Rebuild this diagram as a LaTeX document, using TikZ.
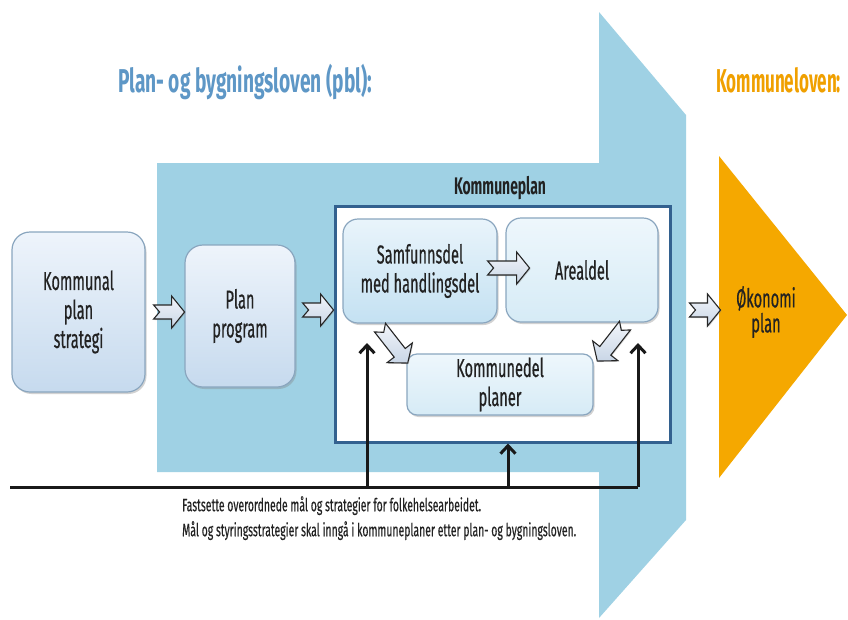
\documentclass[tikz,border=0pt]{standalone}
\usepackage{fontspec}
\setmainfont{Fira Sans}[FakeStretch=0.58]
\newfontfamily\boxfont{Fira Sans}[FakeStretch=0.56, FakeBold=0.5]
\newfontfamily\notefont{Fira Sans}[FakeStretch=0.58, FakeBold=0.3]
\usetikzlibrary{calc,arrows.meta,shadows}

\definecolor{pblblue}{HTML}{9FD1E4}
\definecolor{orangeA}{HTML}{F5A800}
\definecolor{titleblue}{HTML}{5E97C6}
\definecolor{titleorange}{HTML}{F0A000}
\definecolor{frameblue}{HTML}{33618F}
\definecolor{boxline}{HTML}{8AA6BF}
\definecolor{boxtop}{HTML}{EEF4FB}
\definecolor{boxbot}{HTML}{C6DAEE}
\definecolor{iboxtop}{HTML}{E9F4FB}
\definecolor{iboxbot}{HTML}{C4E1F2}
\definecolor{jboxtop}{HTML}{EEF7FC}
\definecolor{jboxbot}{HTML}{D6EBF6}
\definecolor{txt}{HTML}{222222}
\definecolor{arrfillA}{HTML}{F2F5FA}
\definecolor{arrfillB}{HTML}{C9D6E6}

\tikzset{
  box/.style={draw=boxline, line width=1.2pt, rounded corners=18pt,
    top color=boxtop, bottom color=boxbot, align=center, text=txt,
    font=\boxfont\fontsize{26}{29}\selectfont, inner sep=0pt,
    drop shadow={shadow xshift=1.5pt, shadow yshift=-2pt, opacity=0.35}},
  ibox/.style={box, rounded corners=15pt, top color=iboxtop, bottom color=iboxbot},
  jbox/.style={box, rounded corners=15pt, top color=jboxtop, bottom color=jboxbot},
  barrow/.style={draw=black!85, line width=1.1pt, line join=miter,
    top color=arrfillA, bottom color=arrfillB,
    drop shadow={shadow xshift=1pt, shadow yshift=-1pt, opacity=0.3}},
  pics/barr/.style={code={
    \path[barrow] (0,-7) -- ({#1-13},-7) -- ({#1-13},-16) -- (#1,0)
      -- ({#1-13},16) -- ({#1-13},7) -- (0,7) -- (6,0) -- cycle;
  }},
  blk/.style={draw=black!90, line width=3pt},
  uparr/.style={blk, -{Straight Barb[length=8pt,width=15pt]}},
  title/.style={anchor=base west, inner sep=0pt,
    font=\fontsize{33}{36}\selectfont\bfseries},
}

\begin{document}
\begin{tikzpicture}[x=1pt,y=-1pt]
\useasboundingbox (0,0) rectangle (848,619);
\fill[white] (0,0) rectangle (848,619);

% big blue arrow (pbl)
\fill[pblblue] (157,163) -- (599,163) -- (599,12) -- (686,115) -- (686,520)
  -- (599,618) -- (599,472) -- (157,472) -- cycle;

% orange triangle (kommuneloven)
\fill[orangeA] (719,156) -- (847,315) -- (719,478) -- cycle;

% titles
\node[title, text=titleblue] (t1) at (118,92) {Plan- og bygningsloven (pbl):};
\node[title, text=titleorange, xscale=0.89, transform shape] (t2) at (716,92)
  {Kommuneloven:};

% left boxes
\node[box, minimum width=133pt, minimum height=160pt] (kps) at (78.5,312)
  {Kommunal\\plan\\strategi};
\node[box, minimum width=110pt, minimum height=142pt] (pp) at (240,316)
  {Plan\\program};

% kommuneplan frame
\node[draw=frameblue, line width=3pt, fill=white, minimum width=335pt,
  minimum height=236pt, inner sep=0pt] (kp) at (502.5,324) {};
\node[inner sep=0pt, text=txt, font=\fontsize{24}{26}\selectfont\bfseries]
  (kplabel) at (500,188) {Kommuneplan};

\node[ibox, minimum width=154pt, minimum height=104pt] (samf) at (420,271)
  {Samfunnsdel\\med handlingsdel};
\node[jbox, minimum width=152pt, minimum height=104pt] (areal) at (582,270)
  {Arealdel};
\node[jbox, rounded corners=10pt, minimum width=186pt, minimum height=61pt]
  (kdel) at (500,384.5) {Kommunedel\\planer};

% okonomi
\node[inner sep=0pt, align=center, text=txt, font=\boxfont\fontsize{26}{25}\selectfont]
  (oko) at (766,312) {Økonomi\\plan};

% block arrows
\pic at ($(kps.east)+(8,0)$) {barr=31};
\pic at ($(pp.east)+(7,-6)$) {barr=31};
\pic at ($(samf.east)+(-10,-3)$) {barr=42};
\pic[rotate=-52] at ($(samf.south)+(-40,4)$) {barr=45};
\pic[rotate=-128] at ($(areal.south)+(43,3)$) {barr=45};
\pic at ($(kp.east)+(18,-14)$) {barr=31};

% black lines
\coordinate (lstart) at (10,487);
\coordinate (lcorner) at (638,487);
\coordinate (jl) at (367,487);
\coordinate (jm) at (508,487);
\coordinate (tipl) at (367,343);
\coordinate (tipr) at (638,343);
\draw[blk, line join=miter] (lstart) -- (lcorner);
\draw[uparr] (lcorner) -- (tipr);
\draw[uparr] (jl) -- (tipl);
\draw[uparr] (jm) -- (jm |- kp.south);

% note
\node[anchor=north west, align=left, inner sep=0pt, text=txt,
  font=\notefont\fontsize{18}{25}\selectfont] (note) at (182,496)
  {Fastsette overordnede mål og strategier for folkehelsearbeidet.\\
   Mål og styringsstrategier skal inngå i kommuneplaner etter plan- og bygningsloven.};
\end{tikzpicture}
\end{document}
